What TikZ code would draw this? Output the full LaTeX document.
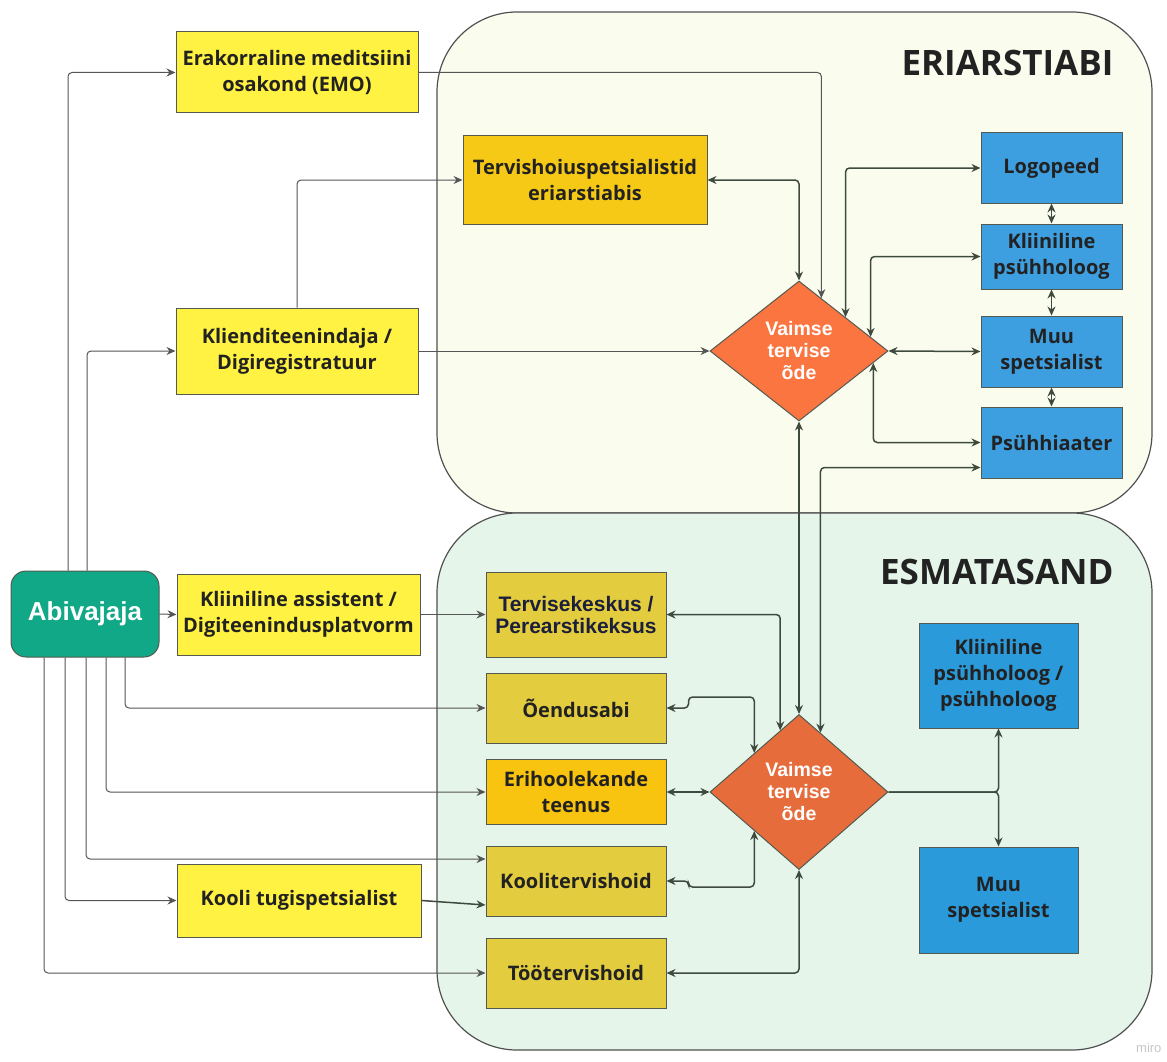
\documentclass[tikz,border=0pt]{standalone}
\usepackage{fontspec}
\setmainfont{Open Sans}
\newfontfamily\arialfont{Liberation Sans}
\usetikzlibrary{arrows.meta,shapes.geometric,calc}

\definecolor{eriback}{HTML}{FAFDEE}
\definecolor{esmback}{HTML}{E5F5EA}
\definecolor{framegray}{HTML}{505050}
\definecolor{boxline}{HTML}{555A50}
\definecolor{boxtext}{HTML}{222222}
\definecolor{linkgray}{HTML}{3E4A3E}
\definecolor{thingray}{HTML}{555555}
\definecolor{abigreen}{HTML}{10A886}
\definecolor{lightyellow}{HTML}{FFF242}
\definecolor{goldyellow}{HTML}{F6C916}
\definecolor{oliveyellow}{HTML}{E3CD3F}
\definecolor{amber}{HTML}{F9C410}
\definecolor{topblue}{HTML}{3D9FE0}
\definecolor{lowblue}{HTML}{2A9ADB}
\definecolor{toporange}{HTML}{FA7540}
\definecolor{loworange}{HTML}{E66C3C}
\definecolor{navytext}{HTML}{1B1F3B}

\begin{document}
\begin{tikzpicture}[x=1pt,y=-1pt,
  box/.style={draw=boxline, line width=1pt, align=center, inner sep=0pt,
    text=boxtext, font=\bfseries\fontsize{20}{26}\selectfont},
  nurse/.style={diamond, draw=boxline, line width=1pt, align=center, inner sep=0pt,
    aspect=1.27, minimum width=178pt, text=white,
    font=\arialfont\bfseries\fontsize{19.5}{22}\selectfont},
  title/.style={anchor=base east, text=boxtext, font=\bfseries\fontsize{35}{40}\selectfont},
  link/.style={draw=linkgray, line width=1.5pt, rounded corners=4pt},
  thinlink/.style={draw=thingray, line width=1pt, rounded corners=4pt},
  >={Stealth[length=9pt,width=8pt]}]
\useasboundingbox (0,0) rectangle (1167,1062);

\filldraw[fill=eriback, draw=framegray, line width=1.2pt, rounded corners=80pt]
  (437,12) rectangle (1152,513);
\filldraw[fill=esmback, draw=framegray, line width=1.2pt, rounded corners=80pt]
  (437,513) rectangle (1152,1050);
\node[title] (eriTitle) at (1117,76) {ERIARSTIABI};
\node[title] (esmTitle) at (1117,584) {ESMATASAND};

\node[box, rounded corners=15pt, fill=abigreen, text=white, minimum width=148pt, minimum height=86pt,
  font=\arialfont\bfseries\fontsize{26}{30}\selectfont] (abi) at (85,614) {Abivajaja};

\node[box, fill=lightyellow, minimum width=242pt, minimum height=81pt] (emo) at (297,72.5) {Erakorraline meditsiini\\osakond (EMO)};
\node[box, fill=lightyellow, minimum width=242pt, minimum height=86pt] (kliend) at (297,351) {Klienditeenindaja /\\Digiregistratuur};
\node[box, fill=lightyellow, minimum width=243pt, minimum height=81pt] (kliass) at (298.5,614.5) {Kliiniline assistent /\\Digiteenindusplatvorm};
\node[box, fill=lightyellow, minimum width=244pt, minimum height=73pt] (kooli) at (299,900.5) {Kooli tugispetsialist};

\node[box, fill=goldyellow, minimum width=244pt, minimum height=88pt] (terv) at (585,180) {Tervishoiuspetsialistid\\eriarstiabis};
\node[nurse, fill=toporange, minimum height=140pt] (vto) at (799,351) {Vaimse\\tervise\\õde};
\node[box, fill=topblue, minimum width=141pt, minimum height=70pt] (logo) at (1051.5,168) {Logopeed};
\node[box, fill=topblue, minimum width=141pt, minimum height=65pt] (kpsy) at (1051.5,256.5) {Kliiniline\\psühholoog};
\node[box, fill=topblue, minimum width=141pt, minimum height=71pt] (muu) at (1051.5,351.5) {Muu\\spetsialist};
\node[box, fill=topblue, minimum width=141pt, minimum height=71pt] (psyh) at (1051.5,442.5) {Psühhiaater};

\node[box, fill=oliveyellow, text=navytext, minimum width=180pt, minimum height=85pt,
  font=\arialfont\bfseries\fontsize{21}{22}\selectfont] (tkesk) at (576,614.5) {Tervisekeskus /\\Perearstikeksus};
\node[box, fill=oliveyellow, minimum width=180pt, minimum height=70pt] (oendus) at (576,708) {Õendusabi};
\node[box, fill=amber, minimum width=180pt, minimum height=65pt] (eriho) at (576,792) {Erihoolekande\\teenus};
\node[box, fill=oliveyellow, minimum width=180pt, minimum height=70pt] (koolit) at (576,881) {Koolitervishoid};
\node[box, fill=oliveyellow, minimum width=180pt, minimum height=70pt] (tootv) at (576,973) {Töötervishoid};
\node[nurse, fill=loworange, minimum height=155pt] (vte) at (799,792) {Vaimse\\tervise\\õde};
\node[box, fill=lowblue, minimum width=159pt, minimum height=105pt] (kpsyb) at (998.5,675.5) {Kliiniline\\psühholoog /\\psühholoog};
\node[box, fill=lowblue, minimum width=159pt, minimum height=106pt] (muub) at (998.5,900) {Muu\\spetsialist};

% eriarstiabi
\draw[thinlink,->] ([xshift=-17pt]abi.north) |- (emo.west);
\draw[thinlink,->] ([xshift=2pt]abi.north) |- (kliend.west);
\draw[thinlink,->] (emo.east) -| ($(vto.north)!0.25!(vto.east)$);
\draw[thinlink,->] (kliend.north) |- (terv.west);
\draw[thinlink,->] (kliend.east) -- (vto.west);
\draw[link,<->] (terv.east) -| (vto.north);
\draw[link,<->] (logo.west) -| ($(vto.north)!0.52!(vto.east)$);
\draw[link,<->] (kpsy.west) -| ($(vto.north)!0.8!(vto.east)$);
\draw[link,<->] (muu.west) -- (vto.east);
\draw[link,<->] (psyh.west) -| ($(vto.east)!0.17!(vto.south)$);
\draw[link,<->] (logo.south) -- (kpsy.north);
\draw[link,<->] (kpsy.south) -- (muu.north);
\draw[link,<->] (muu.south) -- (psyh.north);
\draw[link,<->] (vto.south) -- (vte.north);
\draw[link,<->] ($(vte.north)!0.24!(vte.east)$) |- ([yshift=-25pt]psyh.west);

% esmatasand
\draw[thinlink,->] (abi.east) -- (kliass.west);
\draw[thinlink,->] (kliass.east) -- (tkesk.west);
\draw[thinlink,->] ([xshift=40pt]abi.south) |- (oendus.west);
\draw[thinlink,->] ([xshift=21pt]abi.south) |- (eriho.west);
\draw[thinlink,->] ([xshift=1pt]abi.south) |- ([yshift=22pt]koolit.west);
\draw[thinlink,->] ([xshift=-20pt]abi.south) |- (kooli.west);
\draw[thinlink,->] ([xshift=-41pt]abi.south) |- (tootv.west);
\draw[link,->] (kooli.east) -- ([yshift=-24pt]koolit.west);
\draw[link,<->] (tkesk.east) -| ($(vte.west)!0.79!(vte.north)$);
\draw[link,<->] (oendus.east) -- ++(22,0) -- ++(0,-11) -| ($(vte.west)!0.5!(vte.north)$);
\draw[link,<->] (eriho.east) -- (vte.west);
\draw[link,<->] (koolit.east) -- ++(22,0) -- ++(0,6) -| ($(vte.west)!0.5!(vte.south)$);
\draw[link,<->] (tootv.east) -| (vte.south);
\draw[link,->] (vte.east) -| (kpsyb.south);
\draw[link,->] (vte.east) -| (muub.north);

\node[anchor=base east, text=gray!45, font=\arialfont\fontsize{13}{15}\selectfont] (miro) at (1165,1052) {miro};
\end{tikzpicture}
\end{document}
